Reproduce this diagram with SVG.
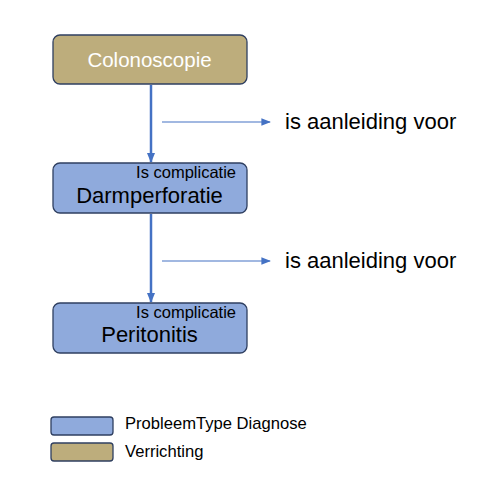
<svg xmlns="http://www.w3.org/2000/svg" width="500" height="504" viewBox="0 0 500 504">
<style>
text{font-family:"Liberation Sans","Noto Sans",Arial,sans-serif}
.blue{fill:#8FAADC;stroke:#2F3F60;stroke-width:1.3}
.tan{fill:#BDAD7C;stroke:#2F3F60;stroke-width:1.3}
.main{stroke:#4472C4;stroke-width:2.5;fill:none}
.thin{stroke:#4472C4;stroke-width:1.2;fill:none}
.lbl{font-size:22px;fill:#000}
.sub{font-size:16.5px;fill:#000}
.leg{font-size:16.6px;fill:#000}
</style>
<defs>
<marker id="ah" viewBox="0 0 10 10" refX="9" refY="5" markerWidth="4" markerHeight="4" orient="auto" markerUnits="strokeWidth"><path d="M0,1 L10,5 L0,9 z" fill="#4472C4"/></marker>
<marker id="ah2" viewBox="0 0 10 10" refX="9" refY="5" markerWidth="8" markerHeight="8" orient="auto" markerUnits="strokeWidth"><path d="M0,1 L10,5 L0,9 z" fill="#4472C4"/></marker>
</defs>
<g id="connectors">
<line class="main" x1="151" y1="85" x2="151" y2="162" marker-end="url(#ah)"/>
<line class="main" x1="151" y1="214" x2="151" y2="302" marker-end="url(#ah)"/>
<line class="thin" x1="162" y1="122" x2="270" y2="122" marker-end="url(#ah2)"/>
<line class="thin" x1="162" y1="261" x2="270" y2="261" marker-end="url(#ah2)"/>
<text x="285" y="129" class="lbl">is aanleiding voor</text>
<text x="285" y="268" class="lbl">is aanleiding voor</text>
</g>
<g id="colonoscopie">
<rect class="tan" x="53" y="35" width="194" height="49" rx="7"/>
<text x="149.5" y="67" text-anchor="middle" font-size="20.5" fill="#fff">Colonoscopie</text>
</g>
<g id="darmperforatie">
<rect class="blue" x="53" y="163" width="194" height="50" rx="7"/>
<text x="236" y="178" text-anchor="end" class="sub">Is complicatie</text>
<text x="149.5" y="203" text-anchor="middle" class="lbl">Darmperforatie</text>
</g>
<g id="peritonitis">
<rect class="blue" x="53" y="303" width="194" height="50" rx="7"/>
<text x="236" y="318" text-anchor="end" class="sub">Is complicatie</text>
<text x="149.5" y="342" text-anchor="middle" class="lbl">Peritonitis</text>
</g>
<g id="legend">
<rect class="blue" x="51" y="417" width="62" height="18" rx="3"/>
<text x="125" y="429" class="leg">ProbleemType Diagnose</text>
<rect class="tan" x="51" y="443" width="62" height="18" rx="3"/>
<text x="125" y="457" class="leg">Verrichting</text>
</g>
</svg>
